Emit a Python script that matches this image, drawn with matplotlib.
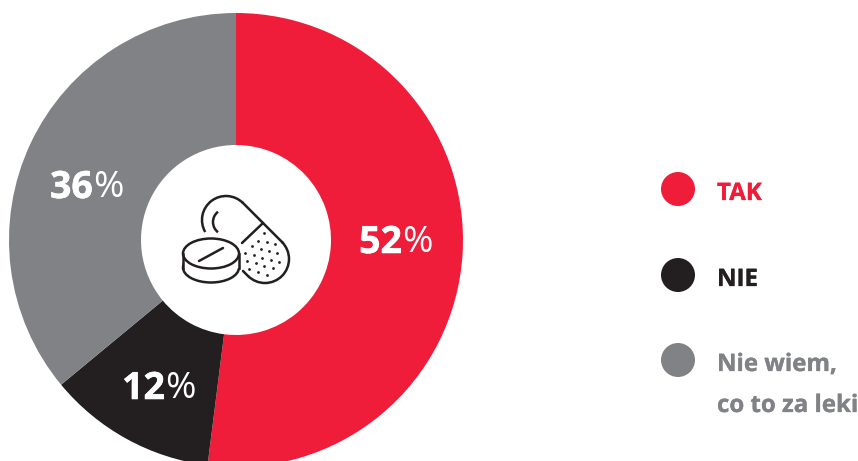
import numpy as np
from matplotlib import pyplot as plt
from matplotlib import patheffects as pe
from matplotlib.patches import Arc, Circle, Ellipse

labels = ['TAK', 'NIE', 'Nie wiem,\nco to za leki']
values = [52, 12, 36]
colors = ['#ef1c3a', '#231f20', '#808285']

plt.rcParams['font.family'] = ['Open Sans', 'DejaVu Sans']

W, H = 858, 461
fig = plt.figure(figsize=(W / 100, H / 100), dpi=100)

# donut, centre (236, 240), radius 227 in pixels
cx, cy, R, r_hole = 236, 240, 227, 95
ax_pie = fig.add_axes([(cx - R) / W, (H - cy - R) / H, 2 * R / W, 2 * R / H])
ax_pie.pie(values, colors=colors, startangle=90, counterclock=False, radius=1,
           wedgeprops={'width': 1 - r_hole / R, 'linewidth': 0})
ax_pie.set_xlim(-1, 1)
ax_pie.set_ylim(-1, 1)

# everything else goes on an overlay in pixel coords
ax = fig.add_axes([0, 0, 1, 1])
ax.set_xlim(0, W)
ax.set_ylim(H, 0)
ax.axis('off')


def heavy(col, w=0.5):
    # the font's bold is a bit lighter than the one in the picture
    return [pe.withStroke(linewidth=w, foreground=col)]


# percent labels: bold number, regular percent sign
label_pos = [(402, 243), (165, 389), (93, 188)]
for v, (x, y) in zip(values, label_pos):
    ax.text(x, y, str(v), color='white', fontsize=27, fontweight='bold', ha='right', va='center',
            path_effects=heavy('white', 0.4))
    ax.text(x, y, '%', color='white', fontsize=26.5, ha='left', va='center')

# legend
legend_y = [189, 275, 360]
for lab, col, y in zip(labels, colors, legend_y):
    ax.add_patch(Circle((678, y), 17, color=col, lw=0))
    for i, line in enumerate(lab.split('\n')):
        ax.text(717, y + 5 + i * 41, line, color=col, fontsize=17.3, fontweight='bold', va='center',
                path_effects=heavy(col, 0.2))

# pill icon
ic = '#231f20'
lw = 1.8
# y axis is flipped, so Arc angles run clockwise on screen
ax.add_patch(Arc((226, 220), 48, 48, theta1=150, theta2=315, color=ic, lw=lw))
ax.add_patch(Arc((265, 259), 48, 48, theta1=-45, theta2=135, color=ic, lw=lw))
ax.plot([243, 282], [203, 242], color=ic, lw=lw)
ax.plot([248, 243], [276, 271], color=ic, lw=lw, solid_capstyle='round')
ax.plot([263, 242], [223, 243], color=ic, lw=lw, solid_capstyle='round')
ax.add_patch(Arc((226, 222), 26, 26, theta1=128, theta2=232, color=ic, lw=lw))

# tablet
ax.add_patch(Ellipse((211, 267.5), 56, 30, fc='white', ec=ic, lw=lw))
ax.fill_between([183, 239], [253.5, 253.5], [267.5, 267.5], color='white', lw=0)
ax.add_patch(Ellipse((211, 253.5), 56, 30, fc='white', ec=ic, lw=lw))
ax.plot([183, 183], [253.5, 267.5], color=ic, lw=lw)
ax.plot([239, 239], [253.5, 267.5], color=ic, lw=lw)
ax.plot([199, 223], [261, 248], color=ic, lw=lw, solid_capstyle='round')

# dots on the capsule
dots = [(283, 160), (265, 182), (290, 187), (315, 193), (245, 197), (272, 207), (297, 212),
        (322, 219), (226, 218), (252, 226), (277, 233), (303, 240), (328, 245), (232, 243),
        (258, 250), (283, 258), (310, 265), (238, 268), (264, 277), (290, 284)]
dots = np.array(dots) / 3 + [170, 180]
ax.scatter(dots[:, 0], dots[:, 1], s=4, color=ic, lw=0)

fig.savefig('out.png', dpi=100)
